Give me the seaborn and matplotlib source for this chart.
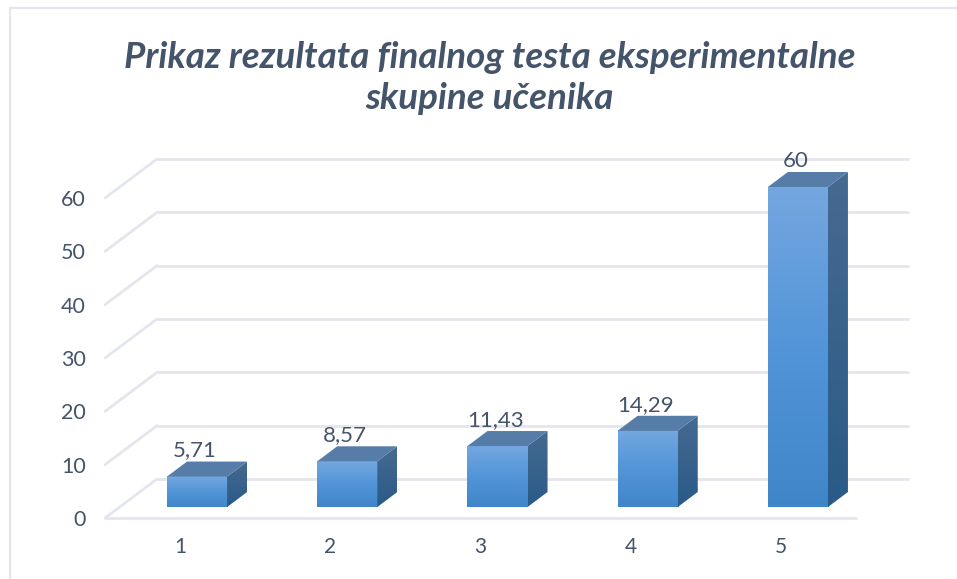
import numpy as np
import pandas as pd
import matplotlib
matplotlib.use('Agg')
import matplotlib.pyplot as plt
import seaborn as sns
from matplotlib.colors import LinearSegmentedColormap
from matplotlib.lines import Line2D
from matplotlib.patches import Polygon, Rectangle
from matplotlib.transforms import Affine2D

categorias = ['1', '2', '3', '4', '5']
rezultati = [5.71, 8.57, 11.43, 14.29, 60]
rotulos = ['5,71', '8,57', '11,43', '14,29', '60']
titulo = 'Prikaz rezultata finalnog testa eksperimentalne\nskupine učenika'
y_ticks = [0, 10, 20, 30, 40, 50, 60]

W, H = 957, 579
GRID = '#e3e6ec'
TEXT = '#44546a'

sns.set_theme(style='white')
plt.rcParams['font.family'] = ['Lato', 'DejaVu Sans']

fig = plt.figure(figsize=(W / 100, H / 100), dpi=100)
# plano frontal do grafico, em pixels da imagem
ax = fig.add_axes([105 / W, 1 - 518 / H, 751 / W, 320 / H])

df = pd.DataFrame({'cat': categorias, 'val': rezultati})
sns.barplot(data=df, x='cat', y='val', width=0.4, color='#5b9bd5', saturation=1, ax=ax, zorder=5)
ax.set_ylim(0, 60)
ax.set_xlim(-0.5, 4.5)
ax.set_xlabel('')
ax.set_ylabel('')
ax.set_yticks(y_ticks)
sns.despine(ax=ax, left=True, bottom=True)
ax.patch.set_alpha(0)
ax.tick_params(axis='y', length=0, labelsize=15.5, labelcolor=TEXT, pad=14)
ax.tick_params(axis='x', length=0, labelsize=15, labelcolor=TEXT, pad=14)

# paredes do grafico: linhas da grade com profundidade (52 px, 39 px)
fundo = ax.transData + Affine2D().translate(52, 39)
for t in y_ticks:
    x0, y0 = ax.transData.transform((-0.5, t))
    fig.add_artist(Line2D([x0, x0 + 52], [y0, y0 + 39], transform=None, color=GRID, lw=2, zorder=0))
    ax.plot([-0.5, 4.5], [t, t], transform=fundo, color=GRID, lw=2, clip_on=False, zorder=1)
ax.plot([-0.5, 4.5], [0, 0], color=GRID, lw=2, clip_on=False, zorder=1)

# caixa 3D: deslocar a face da barra e desenhar topo e lado
frente = ax.transData + Affine2D().translate(17, 11)
cmap_frente = LinearSegmentedColormap.from_list('frente', ['#3f86c9', '#5295d8', '#74a7e0'])
cmap_lado = LinearSegmentedColormap.from_list('lado', ['#2a5a88', '#466a90'])
gradiente = np.linspace(0, 1, 256).reshape(-1, 1)
for barra, rotulo in zip(ax.patches, rotulos):
    x, w, v = barra.get_x(), barra.get_width(), barra.get_height()
    (px0, py0), (px1, py1) = frente.transform([(x, 0), (x + w, v)])
    barra.set_visible(False)
    ax.imshow(gradiente, cmap=cmap_frente, origin='lower', aspect='auto', zorder=6,
              extent=[px0, px1, py0, py1], transform=Affine2D(), clip_on=False)
    lado = [(px1, py0), (px1 + 20, py0 + 15), (px1 + 20, py1 + 15), (px1, py1)]
    clip = Polygon(lado, transform=Affine2D(), facecolor='none', edgecolor='none')
    ax.add_patch(clip)
    im2 = ax.imshow(gradiente, cmap=cmap_lado, origin='lower', aspect='auto', zorder=6,
                    extent=[px1, px1 + 20, py0, py1 + 15], transform=Affine2D())
    im2.set_clip_box(fig.bbox)
    im2.set_clip_path(clip)
    topo = [(px0, py1), (px1, py1), (px1 + 20, py1 + 15), (px0 + 20, py1 + 15)]
    ax.add_patch(Polygon(topo, transform=Affine2D(), facecolor='#567ca8', edgecolor='none', zorder=6, clip_on=False))
    ax.text((px0 + px1) / 2 - 2, py1 + 26, rotulo, transform=Affine2D(), ha='center', va='center',
            fontsize=16, color=TEXT, zorder=7)
ax.set_xlim(-0.5, 4.5)
ax.set_ylim(0, 60)

# moldura do grafico
fig.add_artist(Rectangle((10 / W, -0.02), 2000, 1.02 - 8 / H, transform=fig.transFigure,
                         facecolor='none', edgecolor=GRID, lw=1.5, zorder=0))

fig.text(489.5 / W, 1 - 78 / H, titulo, ha='center', va='center', fontsize=26.5, fontweight='bold',
         fontstyle='italic', color=TEXT, linespacing=1.29)

fig.savefig('out.png', dpi=100)
